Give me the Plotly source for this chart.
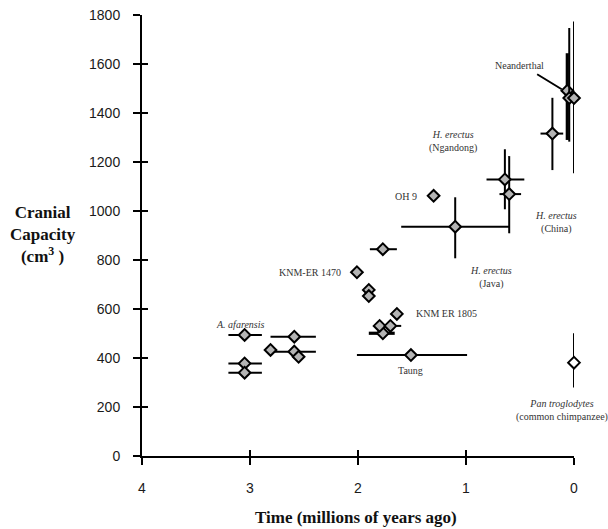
import plotly.graph_objects as go

# ---- data (time in millions of years ago, cranial capacity in cm3) ----
time_mya = [3.05, 2.59, 2.81, 2.59, 2.55, 3.05, 3.05, 2.01, 1.90, 1.90, 1.77, 1.64,
            1.80, 1.70, 1.77, 1.51, 1.30, 1.10, 0.20, 0.64, 0.60, 0.062, 0.044, 0.0]
capacity = [494, 487, 433, 426, 405, 378, 340, 750, 678, 653, 844, 580,
            531, 531, 501, 412, 1062, 936, 1316, 1129, 1069, 1491, 1461, 1461]
time_older = [3.20, 2.81, None, 2.79, None, 3.20, 3.20, None, None, None, 1.89, None,
              None, 1.84, 1.90, 2.01, None, 1.60, 0.31, 0.81, 0.69, None, None, None]
time_younger = [2.89, 2.39, None, 2.39, None, 2.89, 2.89, None, None, None, 1.64, None,
                None, 1.60, 1.66, 0.99, None, 0.60, 0.10, 0.46, 0.49, None, None, None]
cap_low = [None] * 17 + [807, 1167, 1007, 909, 1290, 1283, 1154]
cap_high = [None] * 17 + [1056, 1462, 1252, 1224, 1644, 1747, 1773]

chimp_time = [0.0]
chimp_cap = [381]
chimp_low = [280]
chimp_high = [501]

x_ticks = [4, 3, 2, 1, 0]
y_ticks = [0, 200, 400, 600, 800, 1000, 1200, 1400, 1600, 1800]

labels = [
    ("<i>A. afarensis</i>", 3.09, 535, "center"),
    ("KNM ER 1805", 1.48, 580, "left"),
    ("Taung", 1.51, 351, "center"),
    ("OH 9", 1.435, 1060, "right"),
    ("KNM-ER 1470", 2.136, 750, "right"),
    ("<i>H. erectus</i><br>(Ngandong)", 1.12, 1284, "center"),
    ("<i>H. erectus</i><br>(China)", 0.167, 952, "center"),
    ("<i>H. erectus</i><br>(Java)", 0.77, 729, "center"),
    ("<i>Pan troglodytes</i><br>(common chimpanzee)", 0.11, 184, "center"),
]
neander_label = ("Neanderthal", 0.505, 1593)
neander_pointer = (0.355, 1562, 0.114, 1497)

thick_idx = [14, 21]


def diff(a, b):
    return [0 if (u is None or v is None) else u - v for u, v in zip(a, b)]


ex_plus = diff(time_older, time_mya)
ex_minus = diff(time_mya, time_younger)
ey_plus = diff(cap_high, capacity)
ey_minus = diff(capacity, cap_low)

fig = go.Figure()

GRAY = "#b4b4b4"
MSIZE = 9


def add_group(idx, thick):
    fig.add_trace(go.Scatter(
        x=[time_mya[i] for i in idx], y=[capacity[i] for i in idx],
        mode="markers", cliponaxis=False, showlegend=False,
        marker=dict(symbol="diamond", size=MSIZE, color=GRAY,
                    line=dict(color="black", width=2)),
        error_x=dict(type="data", symmetric=False,
                     array=[ex_plus[i] for i in idx],
                     arrayminus=[ex_minus[i] for i in idx],
                     color="black", thickness=thick, width=0),
        error_y=dict(type="data", symmetric=False,
                     array=[ey_plus[i] for i in idx],
                     arrayminus=[ey_minus[i] for i in idx],
                     color="black", thickness=thick, width=0),
    ))


norm_idx = [i for i in range(len(time_mya)) if i not in thick_idx]
add_group(thick_idx, 3.2)
add_group(norm_idx, 2)

fig.add_trace(go.Scatter(
    x=chimp_time, y=chimp_cap, mode="markers", cliponaxis=False, showlegend=False,
    marker=dict(symbol="diamond", size=MSIZE, color="white",
                line=dict(color="black", width=2)),
    error_y=dict(type="data", symmetric=False,
                 array=[h - c for h, c in zip(chimp_high, chimp_cap)],
                 arrayminus=[c - l for c, l in zip(chimp_cap, chimp_low)],
                 color="black", thickness=2, width=0),
))

# dummy trace for overlay axes (inside ticks)
fig.add_trace(go.Scatter(x=[None], y=[None], xaxis="x2", yaxis="y2",
                         showlegend=False, hoverinfo="skip"))

tick_font = dict(family="Liberation Sans, Arial, sans-serif", size=14, color="#1a1a1a")

fig.update_layout(
    width=608, height=529,
    margin=dict(l=142, r=34, t=15, b=73, autoexpand=False),
    paper_bgcolor="white", plot_bgcolor="white",
    showlegend=False,
    xaxis=dict(range=[4, 0], tickvals=x_ticks, ticktext=[str(v) for v in x_ticks],
               showgrid=False, zeroline=False, showline=True, linecolor="black",
               linewidth=2, ticks="outside", ticklen=7, tickwidth=2, tickcolor="black",
               tickfont=tick_font, ticklabelstandoff=11, automargin=False),
    yaxis=dict(range=[0, 1800], tickvals=y_ticks, ticktext=[str(v) for v in y_ticks],
               showgrid=False, zeroline=False, showline=True, linecolor="black",
               linewidth=2, ticks="outside", ticklen=7, tickwidth=2, tickcolor="black",
               tickfont=tick_font, ticklabelstandoff=10, automargin=False),
    xaxis2=dict(range=[4, 0], overlaying="x", anchor="y2", side="bottom",
                tickvals=x_ticks, showticklabels=False, showgrid=False, zeroline=False,
                showline=False, ticks="inside", ticklen=6, tickwidth=2, tickcolor="black",
                automargin=False),
    yaxis2=dict(range=[0, 1800], overlaying="y", anchor="x2", side="left",
                tickvals=y_ticks, showticklabels=False, showgrid=False, zeroline=False,
                showline=False, ticks="inside", ticklen=6, tickwidth=2, tickcolor="black",
                automargin=False),
)

label_font = dict(family="Liberation Serif, Times New Roman, serif", size=10, color="#333333")
for text, x, y, anchor in labels:
    fig.add_annotation(x=x, y=y, xref="x", yref="y", text=text, showarrow=False,
                       xanchor=anchor, yanchor="middle", font=label_font, align="center")

fig.add_annotation(x=neander_label[1], y=neander_label[2], xref="x", yref="y",
                   text=neander_label[0], showarrow=False, font=label_font)
fig.add_annotation(x=neander_pointer[2], y=neander_pointer[3], ax=neander_pointer[0],
                   ay=neander_pointer[1], xref="x", yref="y", axref="x", ayref="y",
                   text="", showarrow=True, arrowhead=0, arrowwidth=2, arrowcolor="black",
                   standoff=0, startstandoff=0)

title_font = dict(family="Liberation Serif, Times New Roman, serif", size=17,
                  color="#111111")
fig.add_annotation(x=0.495, y=-0.14, xref="paper", yref="paper",
                   text="<b>Time (millions of years ago)</b>", showarrow=False,
                   xanchor="center", yanchor="middle", font=title_font)
fig.add_annotation(x=-0.23, y=0.503, xref="paper", yref="paper",
                   text="<b>Cranial</b><br><b>Capacity</b><br><b>(cm<sup>3</sup> )</b>",
                   showarrow=False, xanchor="center", yanchor="middle",
                   font=title_font, align="center")

fig.write_html("out.html", config={"displayModeBar": False},
               post_script="document.body.style.margin='0';")
